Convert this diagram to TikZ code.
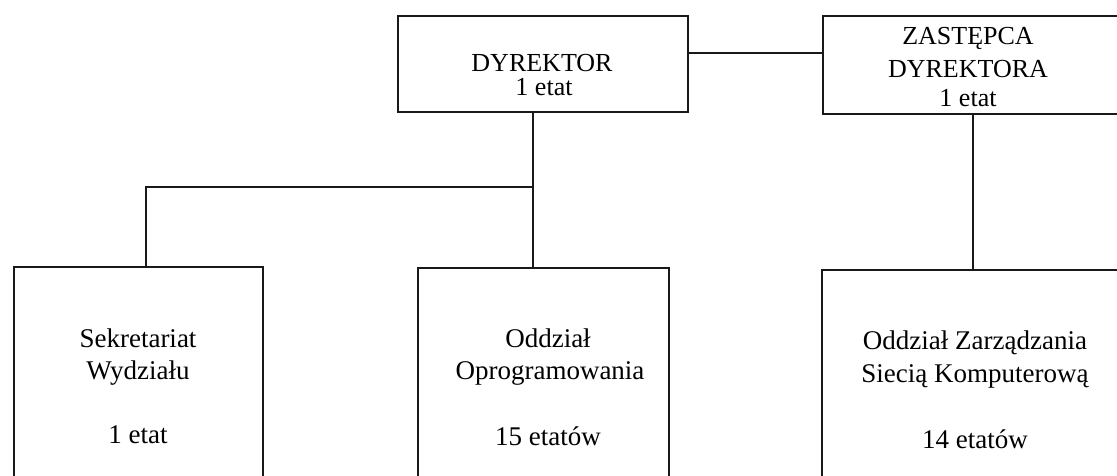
\documentclass[tikz,border=0pt]{standalone}
\usepackage{fontspec}
\setmainfont{Liberation Serif}
\begin{document}
\begin{tikzpicture}[x=1pt,y=-1pt,
  box/.style={draw=black!90, line width=2.4pt, inner sep=0pt, anchor=north west},
  conn/.style={draw=black!90, line width=2.4pt},
  ttop/.style={anchor=base, inner sep=0pt, font=\fontsize{26}{31}\selectfont},
  tbot/.style={anchor=base, inner sep=0pt, font=\fontsize{27}{32}\selectfont}]
\useasboundingbox (0,0) rectangle (1117,476);
\clip (0,0) rectangle (1117,476);
% boxes
\node[box, minimum width=290pt, minimum height=96pt] (dyr) at (397,15) {};
\node[box, minimum width=300pt, minimum height=98pt] (zas) at (822,15) {};
\node[box, minimum width=249pt, minimum height=240pt] (sek) at (13,266) {};
\node[box, minimum width=251pt, minimum height=240pt] (opr) at (417,267) {};
\node[box, minimum width=304pt, minimum height=240pt] (siec) at (821,269) {};
% texts
\node[ttop] (dyr1) at (542,72) {DYREKTOR};
\node[ttop] (dyr2) at (544,96) {1 etat};
\node[ttop] (zas1) at (968,45) {ZASTĘPCA};
\node[ttop] (zas2) at (968,78) {DYREKTORA};
\node[ttop] (zas3) at (968,107) {1 etat};
\node[tbot] (sek1) at (138,347) {Sekretariat};
\node[tbot] (sek2) at (138,379) {Wydziału};
\node[tbot] (sek3) at (138,443) {1 etat};
\node[tbot] (opr1) at (548,347) {Oddział};
\node[tbot] (opr2) at (550,379) {Oprogramowania};
\node[tbot] (opr3) at (548,445) {15 etatów};
\node[tbot] (siec1) at (975,349) {Oddział Zarządzania};
\node[tbot] (siec2) at (975,382) {Siecią Komputerową};
\node[tbot] (siec3) at (975,448) {14 etatów};
% connectors
\coordinate (jh) at (700,53);
\coordinate (jx) at (533,187);
\coordinate (jl) at (146,187);
\coordinate (jz) at (973,200);
\draw[conn] (dyr.east |- jh) -- (zas.west |- jh);
\draw[conn] (dyr.south -| jx) -- (opr.north -| jx);
\draw[conn] (jx) -- (jl) -- (sek.north -| jl);
\draw[conn] (zas.south -| jz) -- (siec.north -| jz);
\end{tikzpicture}
\end{document}
